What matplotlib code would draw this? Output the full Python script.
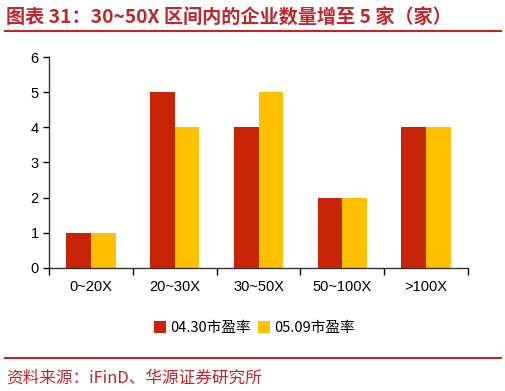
import numpy as np
import matplotlib
matplotlib.use('Agg')
import matplotlib.pyplot as plt

plt.rcParams['font.family'] = ['Noto Sans CJK SC', 'DejaVu Sans']

categories = ['0~20X', '20~30X', '30~50X', '50~100X', '>100X']
pe_0430 = [1, 5, 4, 2, 4]
pe_0509 = [1, 4, 5, 2, 4]
series_names = ['04.30市盈率', '05.09市盈率']

red = '#C82506'
yellow = '#FFC000'
title_red = '#C0272D'

fig = plt.figure(figsize=(5.06, 3.91), dpi=100)
ax = fig.add_axes([0.097, 0.315, 0.828, 0.539])

x = np.arange(len(categories))
w = 0.295
ax.bar(x - w / 2, pe_0430, w, color=red, label=series_names[0])
ax.bar(x + w / 2, pe_0509, w, color=yellow, label=series_names[1])

ax.set_xlim(-0.5, len(categories) - 0.5)
ax.set_ylim(0, 6)
ax.set_yticks(range(0, 7))
ax.set_xticks(x)
ax.set_xticklabels(categories, fontsize=10.5, family=['Liberation Sans', 'DejaVu Sans'])
ax.set_xticks(np.arange(-0.5, len(categories)), minor=True)
ax.tick_params(axis='x', which='major', length=0, pad=9)
ax.tick_params(axis='x', which='minor', length=5, width=1, direction='out')
ax.tick_params(axis='y', length=4, width=1, direction='out', labelsize=10.5)
for lab in ax.get_yticklabels():
    lab.set_family(['Liberation Sans', 'DejaVu Sans'])
for s in ['top', 'right']:
    ax.spines[s].set_visible(False)
for s in ['left', 'bottom']:
    ax.spines[s].set_color('#333333')
    ax.spines[s].set_linewidth(1)

ax.legend(loc='upper center', bbox_to_anchor=(0.49, -0.19), ncol=2, frameon=False,
          fontsize=10.5, handlelength=0.8, handleheight=0.8, handletextpad=0.3,
          columnspacing=0.5)

fig.text(0.012, 0.953, '图表 31：30~50X 区间内的企业数量增至 5 家（家）', color=title_red,
         fontsize=13.8, fontweight='bold', va='center', ha='left')
fig.add_artist(plt.Line2D([0.01, 0.99], [0.921, 0.921], color=title_red, lw=1.5))
fig.add_artist(plt.Line2D([0.01, 0.99], [0.085, 0.085], color=title_red, lw=1.5))
fig.text(0.012, 0.033, '资料来源：iFinD、华源证券研究所', color=title_red,
         fontsize=12, va='center', ha='left')

fig.savefig('out.png', dpi=100)
